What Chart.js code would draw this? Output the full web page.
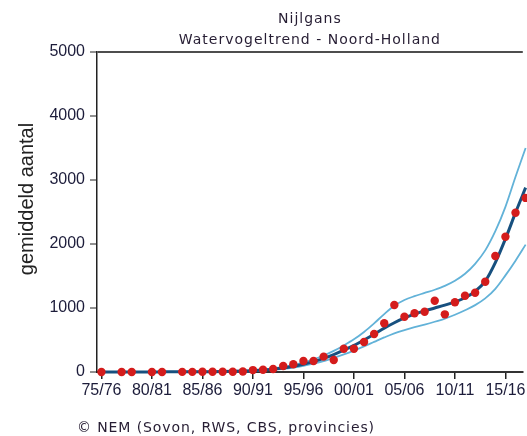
<!DOCTYPE html>
<html>
<head>
<meta charset="utf-8">
<script src="https://cdn.jsdelivr.net/npm/chart.js@4/dist/chart.umd.min.js"></script>
<style>
    html, body { margin: 0; padding: 0; background: #fff; }
    #wrap { width: 527px; height: 436px; position: relative; }
</style>
</head>
<body>
<div id="wrap"><canvas id="trendChart"></canvas></div>
<script>
// Winter seasons, one per year index (0 = 75/76).
const seasons = ['75/76', '76/77', '77/78', '78/79', '79/80', '80/81', '81/82', '82/83', '83/84', '84/85',
    '85/86', '86/87', '87/88', '88/89', '89/90', '90/91', '91/92', '92/93', '93/94', '94/95',
    '95/96', '96/97', '97/98', '98/99', '99/00', '00/01', '01/02', '02/03', '03/04', '04/05',
    '05/06', '06/07', '07/08', '08/09', '09/10', '10/11', '11/12', '12/13', '13/14', '14/15',
    '15/16', '16/17', '17/18'];

// Counted averages (null = no count that season).
const counts = [0, null, 0, 0, null, 0, 0, null, 2, 2,
    3, 3, 4, 5, 8, 30, 35, 47, 94, 120,
    172, 172, 240, 188, 364, 364, 469, 594, 761, 1047,
    864, 917, 942, 1114, 901, 1089, 1192, 1239, 1411, 1812,
    2114, 2489, 2720];

// Smoothed trend with its upper and lower band.
const trend = [1, 1, 1, 1, 1, 1, 2, 2, 2, 3,
    4, 5, 7, 10, 14, 21, 31, 45, 64, 90,
    122, 162, 212, 272, 340, 415, 500, 590, 685, 770,
    845, 905, 955, 1000, 1045, 1095, 1160, 1260, 1420, 1710,
    2080, 2490, 2880];

const upper = [2, 2, 2, 2, 2, 2, 3, 3, 3, 4,
    5, 7, 9, 13, 18, 27, 40, 57, 80, 110,
    150, 198, 258, 330, 415, 510, 625, 760, 905, 1035,
    1125, 1185, 1235, 1285, 1345, 1425, 1535, 1690, 1900, 2200,
    2580, 3050, 3500];

const lower = [0, 0, 0, 0, 0, 0, 1, 1, 1, 2,
    3, 4, 5, 7, 10, 15, 23, 34, 49, 70,
    97, 130, 170, 220, 275, 335, 400, 470, 540, 605,
    655, 700, 740, 785, 835, 895, 965, 1045, 1150, 1300,
    1510, 1740, 1990];

const yTicks = [0, 1000, 2000, 3000, 4000, 5000];
const xTickIndexes = [0, 5, 10, 15, 20, 25, 30, 35, 40];

const titleLines = ['Nijlgans', 'Watervogeltrend - Noord-Holland'];
const yTitle = 'gemiddeld aantal';
const footerText = '\u00A9 NEM (Sovon, RWS, CBS, provincies)';

function toPoints(values) {
    var points = [];
    values.forEach(function (value, i) {
        if (value !== null) {
            points.push({ x: i, y: value });
        }
    });
    return points;
}

//Draws the titles, the rotated y title and the source line.
const textPlugin = {
    id: 'textPlugin',
    afterDraw: function (chart) {
        var ctx = chart.ctx;
        var area = chart.chartArea;
        ctx.save();
        ctx.fillStyle = '#261d33';
        ctx.textAlign = 'center';
        ctx.textBaseline = 'alphabetic';
        ctx.font = '14px "DejaVu Sans"';
        ctx.letterSpacing = '1px';
        var cx = (area.left + area.right) / 2;
        ctx.fillText(titleLines[0], cx, 23);
        ctx.fillText(titleLines[1], cx, 44);

        ctx.textAlign = 'left';
        ctx.letterSpacing = '0.9px';
        ctx.fillText(footerText, 77, 432);

        ctx.letterSpacing = '0px';
        ctx.translate(27, 199);
        ctx.rotate(-Math.PI / 2);
        ctx.textAlign = 'center';
        ctx.textBaseline = 'middle';
        ctx.fillStyle = '#222';
        ctx.font = '20px "Liberation Sans"';
        ctx.fillText(yTitle, 0, 0);
        ctx.restore();
    }
};

var chartControl = document.getElementById('trendChart');

var trendChart = new Chart(chartControl, {
    type: 'scatter',
    data: {
        datasets: [
            {
                label: 'telling',
                data: toPoints(counts),
                showLine: false,
                pointRadius: 4.2,
                pointBackgroundColor: '#d41c1c',
                pointBorderWidth: 0,
                clip: false
            },
            {
                label: 'trend',
                data: toPoints(trend),
                showLine: true,
                borderColor: '#17507f',
                borderWidth: 3,
                pointRadius: 0,
                cubicInterpolationMode: 'monotone',
                clip: false
            },
            {
                label: 'bovengrens',
                data: toPoints(upper),
                showLine: true,
                borderColor: '#62b2d8',
                borderWidth: 1.8,
                pointRadius: 0,
                cubicInterpolationMode: 'monotone',
                clip: false
            },
            {
                label: 'ondergrens',
                data: toPoints(lower),
                showLine: true,
                borderColor: '#62b2d8',
                borderWidth: 1.8,
                pointRadius: 0,
                cubicInterpolationMode: 'monotone',
                clip: false
            }
        ]
    },
    options: {
        responsive: true,
        maintainAspectRatio: false,
        animation: false,
        layout: {
            padding: { top: 52, right: 0, bottom: 0, left: 0 }
        },
        scales: {
            x: {
                type: 'linear',
                min: -0.44,
                max: 41.72,
                afterBuildTicks: function (scale) {
                    scale.ticks = xTickIndexes.map(function (v) { return { value: v }; });
                },
                afterFit: function (scale) {
                    scale.height = 64;
                    scale.paddingLeft = 0;
                    scale.paddingRight = 0;
                },
                ticks: {
                    autoSkip: false,
                    maxRotation: 0,
                    padding: 2,
                    color: '#1c1c3a',
                    font: { family: 'Liberation Sans, Arial, sans-serif', size: 16 },
                    callback: function (value) { return seasons[value]; }
                },
                grid: {
                    drawOnChartArea: false,
                    tickLength: 7,
                    tickColor: '#222',
                    lineWidth: 1.5
                },
                border: { color: '#333', width: 2 }
            },
            y: {
                min: 0,
                max: 5000,
                afterBuildTicks: function (scale) {
                    scale.ticks = yTicks.map(function (v) { return { value: v }; });
                },
                afterFit: function (scale) {
                    scale.width = 97;
                },
                ticks: {
                    padding: 5,
                    color: '#1c1c3a',
                    font: { family: 'Liberation Sans, Arial, sans-serif', size: 16 },
                    callback: function (value) { return String(value); }
                },
                grid: {
                    color: function (context) {
                        return context.tick && context.tick.value === 5000 ? '#4d4d4d' : 'rgba(0,0,0,0)';
                    },
                    lineWidth: 2,
                    tickLength: 7,
                    tickColor: '#222',
                    tickWidth: 1
                },
                border: { color: '#222', width: 1.5 }
            }
        },
        plugins: {
            legend: { display: false },
            tooltip: { enabled: false },
            title: { display: false }
        }
    },
    plugins: [textPlugin]
});
</script>
</body>
</html>
